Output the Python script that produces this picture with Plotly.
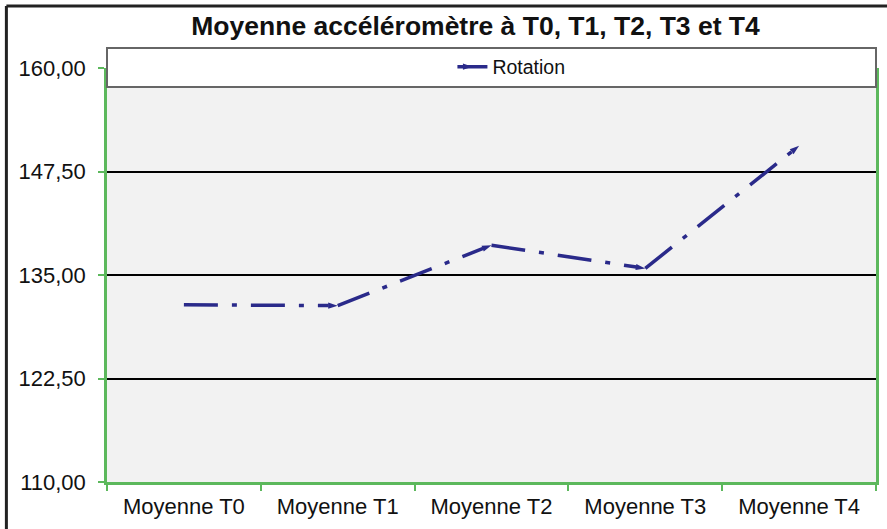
import plotly.graph_objects as go

categories = ["Moyenne T0", "Moyenne T1", "Moyenne T2", "Moyenne T3", "Moyenne T4"]
rotation = [131.4, 131.3, 138.6, 135.8, 150.6]
y_ticks = [110, 122.5, 135, 147.5, 160]

GREEN = "#5cb85c"
NAVY = "#2a2a8a"

fig = go.Figure()
fig.add_trace(go.Scatter(
    x=categories, y=rotation, mode="lines+markers", name="Rotation",
    line=dict(color=NAVY, width=3.5, dash="34px,14px,5px,14px"),
    marker=dict(symbol="arrow", angleref="previous", size=10, color=NAVY),
))

L, R, T, B = 107, 8, 68, 47
W, H = 887, 529
pw, ph = W - L - R, H - T - B

def px_x(p):
    return (p - L) / pw

def px_y(p):
    return (H - B - p) / ph

fig.update_layout(
    width=W, height=H,
    margin=dict(l=L, r=R, t=T, b=B, pad=0),
    paper_bgcolor="white", plot_bgcolor="#f2f2f2",
    separators=", ",
    font=dict(family="Arial, Liberation Sans, sans-serif", size=20, color="#111"),
    title=dict(text="<b>Moyenne accéléromètre à T0, T1, T2, T3 et T4</b>",
               xref="paper", x=px_x(477), xanchor="center", y=1 - 26 / H, yanchor="middle",
               font=dict(size=26.5, color="#111")),
    showlegend=True,
    legend=dict(orientation="h", x=px_x(513), xanchor="center", y=px_y(67), yanchor="middle",
                bgcolor="rgba(0,0,0,0)", font=dict(size=19.5, color="#111")),
    xaxis=dict(showline=True, linecolor=GREEN, linewidth=2.5, ticks="outside", tickcolor=GREEN,
               ticklen=6, tickwidth=2, tickson="boundaries", showgrid=False,
               range=[-0.5, 4.5], fixedrange=True, tickfont=dict(size=22),
               ticklabelstandoff=3),
    yaxis=dict(range=[110, 160], tickvals=y_ticks, tickformat=".2f",
               showline=True, mirror=True, linecolor=GREEN, linewidth=2.5,
               ticks="outside", tickcolor=GREEN, ticklen=6, tickwidth=2,
               showgrid=True, gridcolor="black", gridwidth=2, zeroline=False,
               tickfont=dict(size=22), ticklabelstandoff=8),
    shapes=[
        dict(type="rect", xref="paper", yref="paper", x0=0, x1=1,
             y0=px_y(87), y1=px_y(48), fillcolor="white",
             line=dict(color="#666", width=2), layer="above"),
        dict(type="line", xref="paper", yref="paper", x0=px_x(6), x1=px_x(6),
             y0=px_y(6), y1=px_y(540), line=dict(color="#222", width=3)),
        dict(type="line", xref="paper", yref="paper", x0=px_x(6), x1=px_x(900),
             y0=px_y(6), y1=px_y(6), line=dict(color="#222", width=3)),
    ],
)

fig.write_html("out.html", config={"displayModeBar": False},
               post_script="document.body.style.margin='0';document.body.style.overflow='hidden';")
